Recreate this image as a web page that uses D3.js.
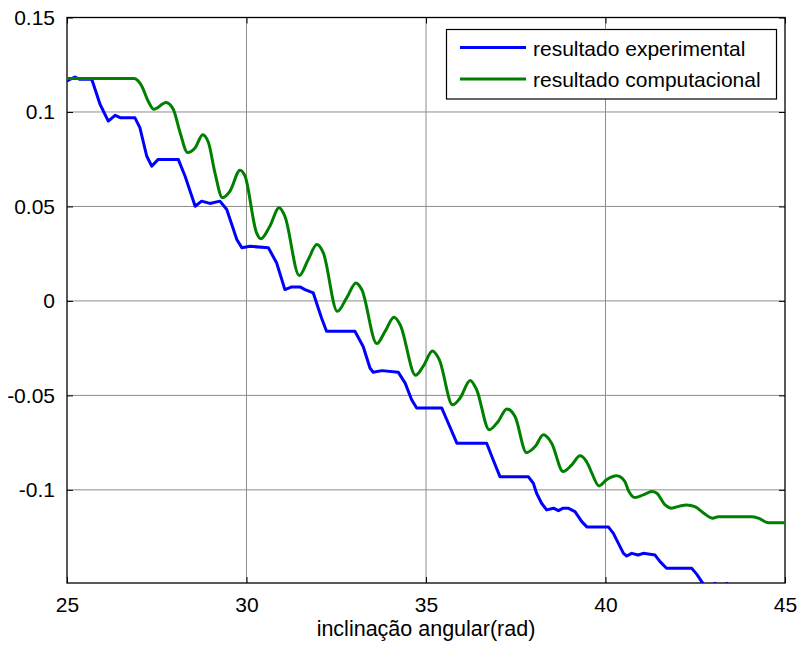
<!DOCTYPE html>
<html lang="pt">
<head>
  <meta charset="UTF-8">
  <title>inclinação angular</title>
  <style>
    body { margin: 0; background: #fff; }
    svg { display: block; font-family: "Liberation Sans", Arial, sans-serif; }
  </style>
</head>
<body>
  <svg></svg>
  <script src="https://cdn.jsdelivr.net/npm/d3@7"></script>
  <script>
    // eixo x: inclinação angular (rad)
    var xTicks = [25, 30, 35, 40, 45]
    var yTicks = [-0.1, -0.05, 0, 0.05, 0.1, 0.15]
    var yTickLabels = ["-0.1", "-0.05", "0", "0.05", "0.1", "0.15"]
    var seriesNames = ["resultado experimental", "resultado computacional"]

    // resultado experimental (azul)
    var expAngle = [25.0, 25.22, 25.36, 25.69, 25.92, 26.15, 26.34, 26.48, 26.89, 27.03, 27.22, 27.36, 27.54, 28.10, 28.29, 28.57, 28.75, 28.98, 29.26, 29.45, 29.73, 29.87, 30.10, 30.61, 30.84, 31.07, 31.26, 31.49, 31.63, 31.86, 32.09, 32.23, 33.02, 33.25, 33.44, 33.53, 33.77, 34.23, 34.42, 34.60, 34.74, 35.44, 35.58, 35.86, 36.69, 36.87, 37.06, 37.85, 37.99, 38.08, 38.22, 38.36, 38.55, 38.69, 38.82, 38.96, 39.15, 39.34, 39.48, 40.08, 40.22, 40.36, 40.50, 40.59, 40.73, 40.91, 41.05, 41.38, 41.52, 41.70, 42.40, 42.54, 42.68, 42.85, 43.05, 43.20, 43.38, 43.50, 44.00]
    var expValue = [0.1164, 0.1185, 0.1173, 0.1173, 0.1041, 0.0952, 0.0982, 0.0970, 0.0970, 0.0917, 0.0767, 0.0713, 0.0749, 0.0749, 0.0660, 0.0501, 0.0528, 0.0516, 0.0528, 0.0484, 0.0325, 0.0281, 0.0289, 0.0281, 0.0201, 0.0060, 0.0074, 0.0074, 0.0060, 0.0042, -0.0090, -0.0161, -0.0161, -0.0241, -0.0355, -0.0378, -0.0369, -0.0378, -0.0435, -0.0523, -0.0567, -0.0567, -0.0629, -0.0753, -0.0753, -0.0841, -0.0930, -0.0930, -0.0965, -0.1018, -0.1071, -0.1106, -0.1097, -0.1110, -0.1097, -0.1097, -0.1115, -0.1168, -0.1196, -0.1196, -0.1230, -0.1283, -0.1336, -0.1350, -0.1336, -0.1345, -0.1336, -0.1345, -0.1380, -0.1415, -0.1415, -0.1446, -0.1486, -0.1530, -0.1495, -0.1530, -0.1495, -0.1550, -0.1600]

    // resultado computacional (verde)
    var compAngle = [25.0, 26.87, 27.08, 27.26, 27.42, 27.76, 27.96, 28.15, 28.36, 28.57, 28.78, 28.94, 29.12, 29.33, 29.54, 29.82, 29.96, 30.28, 30.40, 30.65, 30.91, 31.07, 31.47, 31.72, 31.96, 32.14, 32.53, 32.79, 33.05, 33.21, 33.63, 33.86, 34.11, 34.28, 34.71, 34.92, 35.18, 35.37, 35.74, 35.95, 36.23, 36.41, 36.76, 37.01, 37.25, 37.48, 37.80, 38.04, 38.27, 38.50, 38.82, 39.06, 39.29, 39.52, 39.62, 39.82, 40.03, 40.31, 40.54, 40.63, 40.82, 41.05, 41.29, 41.43, 41.66, 41.84, 42.08, 42.26, 42.49, 42.72, 42.99, 43.14, 44.07, 44.26, 44.53, 45.0]
    var compValue = [0.1177, 0.1177, 0.1138, 0.1058, 0.1014, 0.1050, 0.1014, 0.0891, 0.0785, 0.0811, 0.0880, 0.0838, 0.0679, 0.0546, 0.0581, 0.0692, 0.0660, 0.0360, 0.0329, 0.0395, 0.0493, 0.0448, 0.0134, 0.0219, 0.0298, 0.0254, -0.0055, 0.0016, 0.0095, 0.0060, -0.0226, -0.0161, -0.0087, -0.0126, -0.0393, -0.0347, -0.0265, -0.0311, -0.0550, -0.0514, -0.0421, -0.0470, -0.0682, -0.0638, -0.0572, -0.0612, -0.0803, -0.0771, -0.0709, -0.0753, -0.0903, -0.0868, -0.0820, -0.0868, -0.0912, -0.0979, -0.0947, -0.0926, -0.0956, -0.1000, -0.1041, -0.1027, -0.1009, -0.1018, -0.1080, -0.1097, -0.1085, -0.1080, -0.1089, -0.1121, -0.1150, -0.1142, -0.1142, -0.1150, -0.1174, -0.1174]

    var width = 797
    var height = 645
    var pLeft = 67, pRight = 785, pTop = 17.5, pBottom = 583

    var x = d3.scaleLinear().domain([25, 45]).range([pLeft, pRight])
    var y = d3.scaleLinear().domain([-0.1493, 0.15]).range([pBottom, pTop])

    var svg = d3.select("svg")
      .attr("width", width)
      .attr("height", height)

    svg.append("defs").append("clipPath").attr("id", "plot")
      .append("rect")
      .attr("x", pLeft).attr("y", pTop)
      .attr("width", pRight - pLeft).attr("height", pBottom - pTop)

    // grade
    svg.append("g")
      .selectAll("line")
      .data(xTicks.slice(1, -1))
      .join("line")
      .attr("x1", d => x(d)).attr("x2", d => x(d))
      .attr("y1", pTop).attr("y2", pBottom)
      .attr("stroke", "#8c8c8c").attr("stroke-width", 1)
    svg.append("g")
      .selectAll("line")
      .data(yTicks.filter(d => d < 0.15))
      .join("line")
      .attr("x1", pLeft).attr("x2", pRight)
      .attr("y1", d => y(d)).attr("y2", d => y(d))
      .attr("stroke", "#8c8c8c").attr("stroke-width", 1)

    // eixos com marcas para dentro
    var fmt = d => yTickLabels[yTicks.indexOf(d)]
    svg.append("g")
      .attr("transform", `translate(0, ${pBottom})`)
      .call(d3.axisBottom(x).tickValues(xTicks).tickSize(-6).tickPadding(14).tickFormat(d3.format("d")))
    svg.append("g")
      .attr("transform", `translate(${pLeft}, 0)`)
      .call(d3.axisLeft(y).tickValues(yTicks).tickSize(-6).tickPadding(12).tickFormat(fmt))
    svg.append("g")
      .attr("transform", `translate(0, ${pTop})`)
      .call(d3.axisTop(x).tickValues(xTicks).tickSize(-6).tickFormat(""))
    svg.append("g")
      .attr("transform", `translate(${pRight}, 0)`)
      .call(d3.axisRight(y).tickValues(yTicks).tickSize(-6).tickFormat(""))

    svg.selectAll(".domain").remove()
    svg.selectAll(".tick line").attr("stroke", "#000")
    svg.selectAll(".tick text")
      .attr("fill", "#000")
      .style("font-size", "21px")
      .style("font-family", "'Liberation Sans', Arial, sans-serif")

    svg.append("rect")
      .attr("x", pLeft).attr("y", pTop)
      .attr("width", pRight - pLeft).attr("height", pBottom - pTop)
      .attr("fill", "none").attr("stroke", "#000").attr("stroke-width", 1.3)

    // curvas
    var expData = expAngle.map((a, i) => [a, expValue[i]])
    var compData = compAngle.map((a, i) => [a, compValue[i]])

    var lineExp = d3.line().x(d => x(d[0])).y(d => y(d[1]))
    var lineComp = d3.line().x(d => x(d[0])).y(d => y(d[1])).curve(d3.curveMonotoneX)

    var curves = svg.append("g").attr("clip-path", "url(#plot)")
    curves.append("path")
      .attr("d", lineExp(expData))
      .attr("fill", "none").attr("stroke", "#0000ff").attr("stroke-width", 3)
      .attr("stroke-linejoin", "round")
    curves.append("path")
      .attr("d", lineComp(compData))
      .attr("fill", "none").attr("stroke", "#008000").attr("stroke-width", 3)
      .attr("stroke-linejoin", "round")

    // título do eixo x
    svg.append("text")
      .attr("x", x(35)).attr("y", 636)
      .attr("text-anchor", "middle")
      .style("font-size", "21.5px")
      .text("inclinação angular(rad)")

    // legenda
    var legend = svg.append("g")
    legend.append("rect")
      .attr("x", 446.5).attr("y", 29.5).attr("width", 330).attr("height", 69.5)
      .attr("fill", "#fff").attr("stroke", "#000").attr("stroke-width", 1.2)
    var colors = ["#0000ff", "#008000"]
    seriesNames.forEach((name, i) => {
      var ly = 47.5 + i * 31.5
      legend.append("line")
        .attr("x1", 460).attr("x2", 526).attr("y1", ly).attr("y2", ly)
        .attr("stroke", colors[i]).attr("stroke-width", 3)
      legend.append("text")
        .attr("x", 533).attr("y", ly + 8)
        .style("font-size", "21px")
        .text(name)
    })
  </script>
</body>
</html>
